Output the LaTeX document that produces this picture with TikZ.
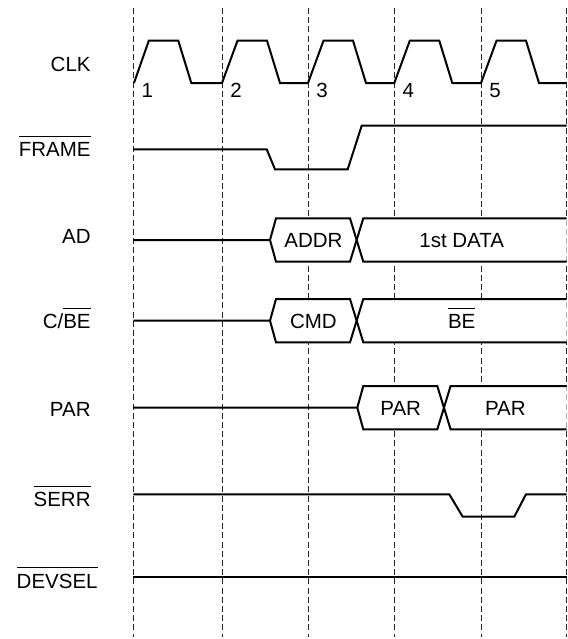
\documentclass[tikz,border=0pt]{standalone}
\usepackage{fontspec}
\setmainfont{Liberation Sans}
\usetikzlibrary{calc}
\usetikzlibrary{positioning}
\newcommand{\actlow}[1]{\vbox{\hrule height 0.5pt\kern 2.6pt\hbox{#1}}}

\begin{document}
\begin{tikzpicture}[x=0.5pt, y=-0.5pt, font=\fontsize{10.25}{12}\selectfont]
    \tikzstyle{sigline}=[draw=black, line width=1pt]
    \tikzstyle{busfill}=[fill=white]
    \tikzstyle{edgeline}=[draw=black!85, line width=0.5pt, dash pattern=on 3pt off 1.6pt]
    \tikzstyle{signame}=[anchor=base east, inner sep=0pt]
    \tikzstyle{edgenum}=[anchor=base west, inner sep=0pt]
    \tikzstyle{busval}=[anchor=base, inner sep=0pt]

    \useasboundingbox (0,0) rectangle (568,639);

    % clock edges
    \foreach \i/\x in {0/133.3, 1/222, 2/308, 3/394.3, 4/481, 5/566.7} {
        \coordinate (t\i) at (\x, 8);
        \draw[edgeline] (t\i) -- (\x, 637);
    }

    \node[signame] (clk) at (91, 71.7) {CLK};
    \node[signame] (frame) at (91, 156.7) {\actlow{FRAME}};
    \node[signame] (ad) at (91, 243.3) {AD};
    \node[signame] (cbe) at (91, 328.3) {C/\actlow{BE}};
    \node[signame] (par) at (91, 416.7) {PAR};
    \node[signame] (serr) at (91, 506.7) {\actlow{SERR}};
    \node[signame] (devsel) at (98, 588) {\actlow{DEVSEL}};

    % CLK
    \draw[sigline] (134,83) \foreach \x/\n in {133.3/222, 222/308, 308/394.3, 394.3/481, 481/566.7} {
        -- (\x+15.5,40.7) -- (\x+45,40.7) -- (\x+58,83) -- (\n,83) };
    \foreach \i/\x in {1/133.3, 2/222, 3/308, 4/394.3, 5/481}
        \node[edgenum] (n\i) at (\x+8, 97) {\i};

    % FRAME
    \draw[sigline] (133.3,149.3) -- (266.7,149.3) -- (275,169.3) -- (347.7,169.3)
        -- (361.7,125.7) -- (566.7,125.7);

    % AD, C/BE and PAR buses
    \foreach \row/\x/\y/\a/\b in {ad/270/240/ADDR/1st DATA, cbe/270/320.7/CMD/\actlow{BE},
                                   par/357.3/407.7/PAR/PAR} {
        \fill[busfill] (\x,\y) -- (\x+6,\y-21.7) -- (\x+80,\y-21.7) -- (\x+86.7,\y)
            -- (\x+80,\y+21.7) -- (\x+6,\y+21.7) -- cycle;
        \fill[busfill] (\x+86.7,\y) -- (\x+93.3,\y-21.7) -- (566.7,\y-21.7)
            -- (566.7,\y+21.7) -- (\x+93.3,\y+21.7) -- cycle;
        \draw[sigline] (133.3,\y) -- (\x,\y) -- (\x+6,\y-21.7) -- (\x+80,\y-21.7)
            -- (\x+93.3,\y+21.7) -- (566.7,\y+21.7);
        \draw[sigline] (\x,\y) -- (\x+6,\y+21.7) -- (\x+80,\y+21.7)
            -- (\x+93.3,\y-21.7) -- (566.7,\y-21.7);
        \node[busval] (\row-a) at (\x+43.4,\y+7.5) {\a};
        \node[busval] (\row-b) at ({(\x+653.4)/2},\y+7.5) {\b};
    }

    % SERR, DEVSEL
    \draw[sigline] (133.3,494.3) -- (449.3,494.3) -- (462.7,516.7) -- (514.3,516.7)
        -- (526,494.3) -- (566.7,494.3);
    \draw[sigline] (133.3,576.7) -- (566.7,576.7);

\end{tikzpicture}
\end{document}
